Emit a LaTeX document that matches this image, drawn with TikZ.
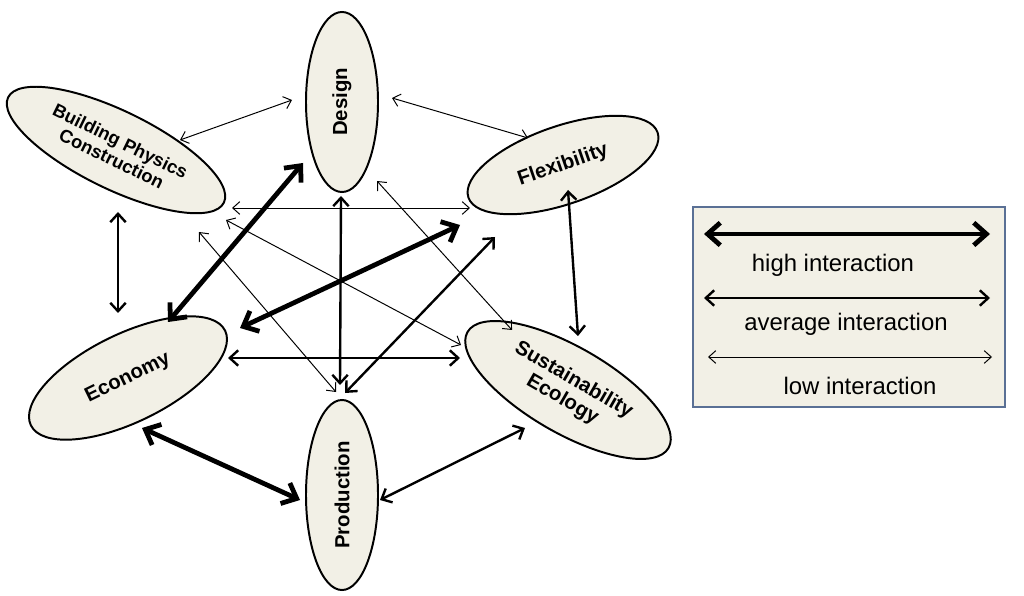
\documentclass[tikz,border=0pt]{standalone}
\usepackage{fontspec}
\setmainfont{Liberation Sans}
\usetikzlibrary{shapes.geometric,arrows.meta}
\definecolor{eg}{HTML}{F2F0E6}
\definecolor{lb}{HTML}{5A7095}
\begin{document}
\begin{tikzpicture}[x=0.025cm,y=-0.025cm,
 ell/.style={ellipse,draw=black,line width=1.4pt,fill=eg,inner sep=0pt,align=center,font=\bfseries\fontsize{13}{14}\selectfont},
 big/.style={font=\bfseries\fontsize{14.5}{16}\selectfont},
 low/.style={{Straight Barb[length=5pt,width=9pt]}-{Straight Barb[length=5pt,width=9pt]},line width=0.7pt},
 avg/.style={{Straight Barb[length=6pt,width=11pt]}-{Straight Barb[length=6pt,width=11pt]},line width=1.7pt},
 high/.style={{Straight Barb[length=9pt,width=16pt]}-{Straight Barb[length=9pt,width=16pt]},line width=3.4pt},
 lt/.style={font=\fontsize{17}{19}\selectfont}]
\useasboundingbox (0,0) rectangle (1024,596);
\node[ell,big,minimum width=4.5cm,minimum height=1.8cm,rotate=90] (de) at (342,102) {Design};
\node[ell,big,minimum width=4.75cm,minimum height=1.8cm,rotate=90] (pr) at (342,495) {Production};
\node[ell,minimum width=6.0cm,minimum height=1.95cm,rotate=-26] (bp) at (116,150) {Building Physics\\Construction};
\node[ell,big,minimum width=5.0cm,minimum height=1.95cm,rotate=19] (fl) at (563,165) {Flexibility};
\node[ell,big,minimum width=5.4cm,minimum height=2.2cm,rotate=26] (ec) at (128,378) {Economy};
\node[ell,big,minimum width=5.8cm,minimum height=2.15cm,rotate=-30] (su) at (568,390) {Sustainability\\Ecology};
% endpoints
\coordinate (a1) at (180,140); \coordinate (a2) at (292,100);
\coordinate (b1) at (392,98); \coordinate (b2) at (528,138);
\coordinate (c1) at (232,208); \coordinate (c2) at (470,208);
\coordinate (d1) at (226,220); \coordinate (d2) at (461,345);
\coordinate (e1) at (199,232); \coordinate (e2) at (336,392);
\coordinate (f1) at (377,181); \coordinate (f2) at (512,330);
\coordinate (g1) at (118,212); \coordinate (g2) at (118,313);
\coordinate (h1) at (568,190); \coordinate (h2) at (578,336);
\coordinate (i1) at (228,358); \coordinate (i2) at (460,358);
\coordinate (j1) at (341,196); \coordinate (j2) at (340,385);
\coordinate (k1) at (495,237); \coordinate (k2) at (345,393);
\coordinate (l1) at (380,500); \coordinate (l2) at (525,428);
\coordinate (m1) at (303,163); \coordinate (m2) at (168,322);
\coordinate (n1) at (460,225); \coordinate (n2) at (240,328);
\coordinate (o1) at (142,428); \coordinate (o2) at (300,500);
\draw[low] (a1)--(a2); \draw[low] (b1)--(b2); \draw[low] (c1)--(c2);
\draw[low] (d1)--(d2); \draw[low] (e1)--(e2); \draw[low] (f1)--(f2);
\draw[avg] (g1)--(g2); \draw[avg] (h1)--(h2); \draw[avg] (i1)--(i2);
\draw[avg] (j1)--(j2); \draw[avg] (k1)--(k2); \draw[avg] (l1)--(l2);
\draw[high] (m1)--(m2); \draw[high] (n1)--(n2); \draw[high] (o1)--(o2);
% legend
\node[draw=lb,line width=1pt,fill=eg,minimum width=7.8cm,minimum height=5.0cm,inner sep=0pt] (lg) at (849,307) {};
\coordinate (p1) at (704,234); \coordinate (p2) at (990,234);
\coordinate (q1) at (704,298); \coordinate (q2) at (990,298);
\coordinate (r1) at (708,357); \coordinate (r2) at (992,357);
\draw[high] (p1)--(p2); \draw[avg] (q1)--(q2); \draw[low] (r1)--(r2);
\node[lt] (t1) at (833,265) {high interaction};
\node[lt] (t2) at (846,324) {average interaction};
\node[lt] (t3) at (860,386) {low interaction};
\end{tikzpicture}
\end{document}
